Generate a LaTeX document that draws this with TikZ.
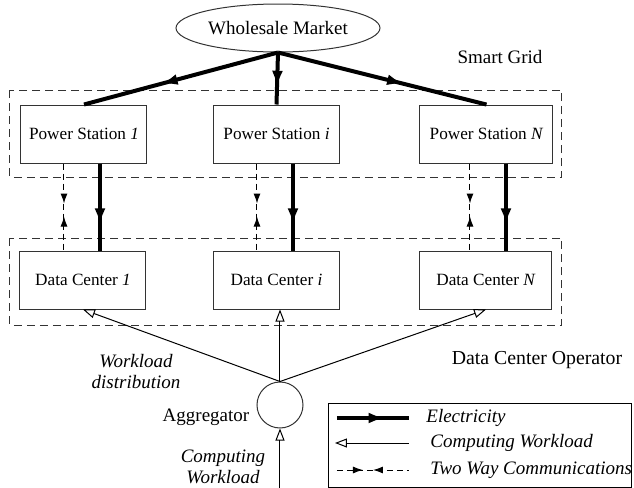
\documentclass[tikz,border=0pt]{standalone}
\usepackage{fontspec}
\setmainfont{Liberation Serif}
\usetikzlibrary{arrows.meta,decorations.markings,shapes.geometric}

\tikzset{
    box/.style={draw=black!80, line width=0.5pt, minimum width=63pt, minimum height=29pt, inner sep=0pt,
        font=\fontsize{8.6}{10}\selectfont},
    region/.style={draw=black!80, line width=0.5pt, dash pattern=on 4pt off 2.5pt},
    elec/.style={line width=2pt, postaction={decorate},
        decoration={markings, mark=at position #1 with {\arrow{Latex[length=8pt,width=5.5pt]}}}},
    elec/.default=0.6,
    comm/.style 2 args={line width=0.5pt, dash pattern=on 3pt off 2pt, postaction={decorate},
        decoration={markings,
            mark=at position #1 with {\arrow{Latex[length=5pt,width=3.5pt]}},
            mark=at position #2 with {\arrowreversed{Latex[length=5pt,width=3.5pt]}}}},
    load/.style={line width=0.5pt, -{Triangle[open,length=6pt,width=4.5pt]}},
    note/.style={align=center, font=\fontsize{9.5}{10.5}\selectfont\itshape},
    legendtext/.style={anchor=west, inner sep=0pt, font=\fontsize{9.5}{10.5}\selectfont\itshape}
}

\begin{document}
\begin{tikzpicture}[x=0.5pt, y=-0.5pt, font=\fontsize{9.5}{10.5}\selectfont]
    \useasboundingbox (0,0) rectangle (634,488);
    \draw[region] (10,90) rectangle (562,177);
    \draw[region] (10,238) rectangle (562,325);
    \path   node (market) at (278,28) [ellipse, draw=black!80, line width=0.5pt, minimum width=102pt, minimum height=24pt, inner sep=0pt] {Wholesale Market}
            node (ps1) at (84,134) [box] {Power Station \textit{1}}
            node (psi) at (276.5,134) [box] {Power Station \textit{i}}
            node (psn) at (486.5,134) [box, minimum width=66.5pt] {Power Station \textit{N}}
            node (dc1) at (83,280) [box] {Data Center \textit{1}}
            node (dci) at (276.5,280) [box] {Data Center \textit{i}}
            node (dcn) at (486,280) [box, minimum width=66pt] {Data Center \textit{N}}
            node (agg) at (280,405) [circle, draw=black!80, line width=0.5pt, minimum size=23pt, inner sep=0pt] {}
            node (aggname) at (206,417) {Aggregator}
            node (grid) at (500,57) {Smart Grid}
            node (operator) at (537,360) [font=\fontsize{9.9}{11}\selectfont] {Data Center Operator}
            node (distr) at (136,372) [note] {Workload\\distribution}
            node (input) at (223,467) [note] {Computing\\Workload};
    \coordinate (src) at (280,490);
    \draw[elec] (market.south) -- (ps1.north);
    \draw[elec=0.66] (market.south) -- (psi.north);
    \draw[elec] (market.south) -- (psn.north);
    \draw[elec=0.7] ([xshift=8pt]ps1.south) -- ([xshift=8pt]ps1.south |- dc1.north);
    \draw[elec=0.7] ([xshift=8.25pt]psi.south) -- ([xshift=8.25pt]psi.south |- dci.north);
    \draw[elec=0.7] ([xshift=9.75pt]psn.south) -- ([xshift=9.75pt]psn.south |- dcn.north);
    \draw[comm={0.46}{0.61}] ([xshift=-10pt]ps1.south) -- ([xshift=-10pt]ps1.south |- dc1.north);
    \draw[comm={0.46}{0.61}] ([xshift=-9.75pt]psi.south) -- ([xshift=-9.75pt]psi.south |- dci.north);
    \draw[comm={0.46}{0.61}] ([xshift=-8.25pt]psn.south) -- ([xshift=-8.25pt]psn.south |- dcn.north);
    \draw[load] (agg.north) -- (dc1.south);
    \draw[load] (agg.north) -- (agg.north |- dci.south);
    \draw[load] (agg.north) -- (dcn.south);
    \draw[load] (src) -- (agg.south);
    \draw[line width=0.5pt] (329,403) rectangle (632,487);
    \coordinate (lg1a) at (337,418);
    \coordinate (lg1b) at (409,418);
    \coordinate (lg2a) at (335,443);
    \coordinate (lg2b) at (409,443);
    \coordinate (lg3a) at (337,470);
    \coordinate (lg3b) at (409,470);
    \draw[elec=0.66] (lg1a) -- (lg1b);
    \draw[load] (lg2b) -- (lg2a);
    \draw[comm={0.36}{0.5}] (lg3a) -- (lg3b);
    \path   node (lgelec) at (426,418) [legendtext] {Electricity}
            node (lgload) at (430,443) [legendtext] {Computing Workload}
            node (lgcomm) at (430,470) [legendtext] {Two Way Communications};
\end{tikzpicture}
\end{document}
